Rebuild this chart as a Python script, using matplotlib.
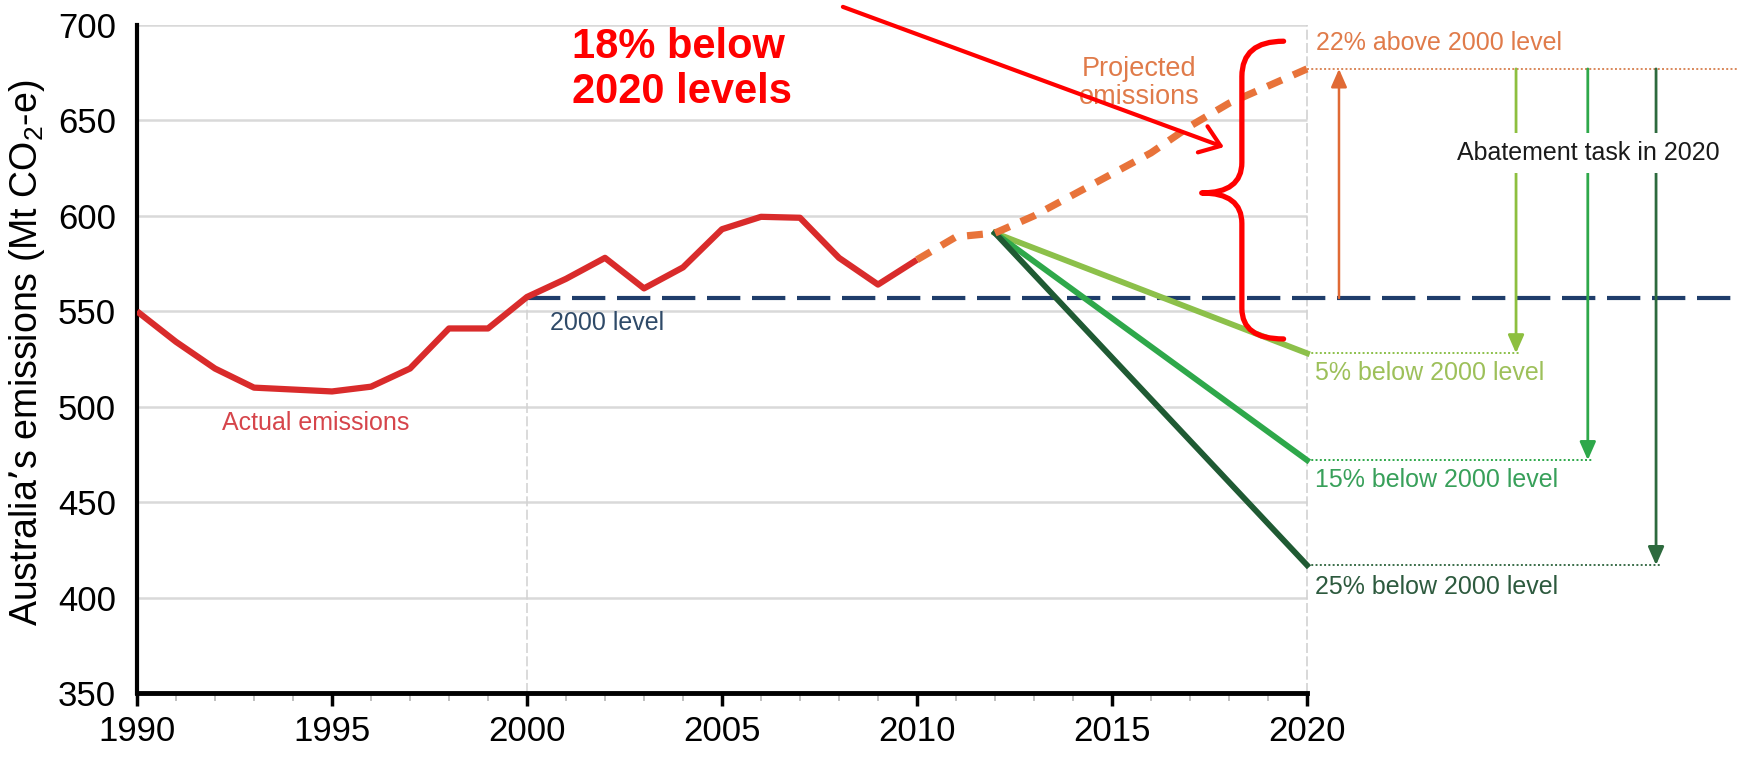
import matplotlib
matplotlib.use("Agg")
import matplotlib.pyplot as plt
from matplotlib.path import Path
from matplotlib.patches import PathPatch

plt.rcParams['font.family'] = ['Liberation Sans', 'DejaVu Sans']

# ---------------- data ----------------
actual_years = list(range(1990, 2011))
actual_values = [550, 534, 520, 510, 509, 508, 510.5, 520, 541, 541, 557.5,
                 567, 578, 562, 573, 593, 599.5, 599, 578, 564, 577]

projected_years = list(range(2010, 2021))
projected_values = [577, 589, 591, 600, 611, 622, 633, 647, 659, 668, 677]

scenario_years = [2012, 2020]
scenario_5 = [591, 528]
scenario_15 = [591, 472]
scenario_25 = [591, 417]

level_2000 = 557
yticks = [350, 400, 450, 500, 550, 600, 650, 700]
xticks_major = [1990, 1995, 2000, 2005, 2010, 2015, 2020]

# abatement arrows: x position (year) and target level
abate_x = [2020.82, 2025.36, 2027.2, 2028.95]
abate_targets = [677, 528, 472, 417]

# colours
c_actual = '#d92b2b'
c_proj = '#e8733a'
c_g5 = '#8cc04a'
c_g15 = '#2ea84a'
c_g25 = '#1f5a33'
c_navy = '#1f3d6b'

# ---------------- figure ----------------
W, H = 1739, 757
fig = plt.figure(figsize=(W / 100, H / 100), dpi=100)
x0, y0, y1 = 137, 693, 25
ax = fig.add_axes([x0 / W, 1 - y0 / H, 1 - x0 / W, (y0 - y1) / H])
ax.set_xlim(1990, 1990 + (W - x0) / 39.0)
ax.set_ylim(350, 700)

for s in ['top', 'right']:
    ax.spines[s].set_visible(False)
ax.spines['left'].set_linewidth(3)
ax.spines['bottom'].set_linewidth(3.5)
ax.spines['bottom'].set_bounds(1990, 2020)

ax.set_yticks(yticks)
ax.tick_params(axis='y', length=0, pad=15, labelsize=25)
ax.set_xticks(xticks_major)
ax.set_xticks(list(range(1990, 2021)), minor=True)
ax.tick_params(axis='x', which='major', length=9, width=2.5, pad=7, labelsize=25)
ax.tick_params(axis='x', which='minor', length=6, width=1.2, color='#b5b5b5')

ax.set_ylabel("Australia\u2019s emissions (Mt CO$_\\mathregular{2}$-e)", fontsize=27)
ax.yaxis.set_label_coords(-0.056, 0.51)

# gridlines (only over 1990-2020)
ax.hlines(yticks[1:], 1990, 2020, colors='#d9d9d9', lw=1.8, zorder=1)
ax.vlines(2020, 350, 700, colors='#d2d2d2', lw=1.2, linestyles=(0, (6, 2)), zorder=1)
ax.vlines(2000, 350, level_2000, colors='#d4d4d4', lw=1.2, linestyles=(0, (6, 2)), zorder=1)

# 2000 level
ax.plot([2000, ax.get_xlim()[1]], [level_2000, level_2000], color=c_navy, lw=3,
        linestyle=(0, (8, 2.8)), zorder=3)

# series
ax.plot(actual_years, actual_values, color=c_actual, lw=4.5, zorder=5,
        solid_joinstyle='round', solid_capstyle='butt')
ax.plot(projected_years, projected_values, color=c_proj, lw=5.2,
        linestyle=(0, (2.2, 1.7)), zorder=5)
ax.plot(scenario_years, scenario_5, color=c_g5, lw=4.2, zorder=4)
ax.plot(scenario_years, scenario_15, color=c_g15, lw=4.2, zorder=4)
ax.plot(scenario_years, scenario_25, color=c_g25, lw=4.2, zorder=4)

# dotted guide lines
xmax = ax.get_xlim()[1]
ax.plot([2020, xmax], [projected_values[-1]] * 2, color='#d9875a', lw=1.4,
        linestyle=(0, (1, 1.2)), zorder=3)
guide_cols = [c_g5, c_g15, '#3b6e4a']
for xa, tgt, col in zip(abate_x[1:], abate_targets[1:], guide_cols):
    ax.plot([2020, xa + 0.1], [tgt, tgt], color=col, lw=1.4,
            linestyle=(0, (1, 1.2)), zorder=3)

# abatement arrows
ax.annotate('', xy=(abate_x[0], projected_values[-1]), xytext=(abate_x[0], level_2000),
            arrowprops=dict(arrowstyle='-|>,head_length=0.5,head_width=0.22',
                            color='#e06a35', lw=1.8,
                            mutation_scale=22, shrinkA=0, shrinkB=0), zorder=3)
arrow_cols = ['#8dbf3f', '#2ea84a', '#2d6a3e']
for xa, tgt, col in zip(abate_x[1:], abate_targets[1:], arrow_cols):
    ax.annotate('', xy=(xa, tgt), xytext=(xa, projected_values[-1]),
                arrowprops=dict(arrowstyle='-|>,head_length=0.5,head_width=0.22',
                                color=col, lw=2.0,
                                mutation_scale=22, shrinkA=0, shrinkB=0), zorder=3)

# text labels
fs = 18
ax.text(1992.18, 491.5, 'Actual emissions', color='#d6454b', fontsize=fs,
        ha='left', va='center')
ax.text(2000.6, 544, '2000 level', color='#2f4a68', fontsize=fs,
        ha='left', va='center')
ax.text(2015.7, 669.6, 'Projected\nemissions', color='#e07b4a', fontsize=19.5,
        ha='center', va='center', linespacing=1.1)
ax.text(2020.23, 690.6, '22% above 2000 level', color='#e07b4a', fontsize=fs,
        ha='left', va='center')
ax.text(2020.2, 517.7, '5% below 2000 level', color='#9dc05a', fontsize=fs,
        ha='left', va='center')
ax.text(2020.2, 461.7, '15% below 2000 level', color='#38a05a', fontsize=fs,
        ha='left', va='center')
ax.text(2020.2, 405.6, '25% below 2000 level', color='#2d5a3e', fontsize=fs,
        ha='left', va='center')
ax.text(2023.85, 633, 'Abatement task in 2020', color='#1a1a1a', fontsize=fs,
        ha='left', va='center', zorder=6,
        bbox=dict(facecolor='white', edgecolor='none', pad=6))

# red overlay annotation
ax.text(2001.15, 682.7, '18% below', color='#ff0000', fontsize=30,
        fontweight='bold', ha='left', va='baseline', zorder=8)
ax.text(2001.15, 659.1, '2020 levels', color='#ff0000', fontsize=30,
        fontweight='bold', ha='left', va='baseline', zorder=8)
ax.annotate('', xy=(2017.87, 636), xytext=(2008.1, 709.5),
            arrowprops=dict(arrowstyle='->,head_length=0.55,head_width=0.4',
                            color='#ff0000', lw=3, mutation_scale=25,
                            shrinkA=0, shrinkB=0),
            annotation_clip=False, zorder=8)

# red brace
bx_end, bx_v, bx_tip = 2019.4, 2018.33, 2017.3
b_top, b_mid, b_bot = 691.5, 612, 535.5
verts = [(bx_end, b_top), (bx_v, b_top), (bx_v, b_top - 18.5),
         (bx_v, b_mid + 16), (bx_v, b_mid), (bx_tip, b_mid),
         (bx_v, b_mid), (bx_v, b_mid - 16),
         (bx_v, b_bot + 16), (bx_v, b_bot), (bx_end, b_bot)]
codes = [Path.MOVETO, Path.CURVE3, Path.CURVE3,
         Path.LINETO, Path.CURVE3, Path.CURVE3,
         Path.CURVE3, Path.CURVE3,
         Path.LINETO, Path.CURVE3, Path.CURVE3]
ax.add_patch(PathPatch(Path(verts, codes), facecolor='none', edgecolor='#ff0000',
                       lw=3.8, capstyle='round', joinstyle='round', zorder=8))

fig.savefig('out.png', dpi=100)
